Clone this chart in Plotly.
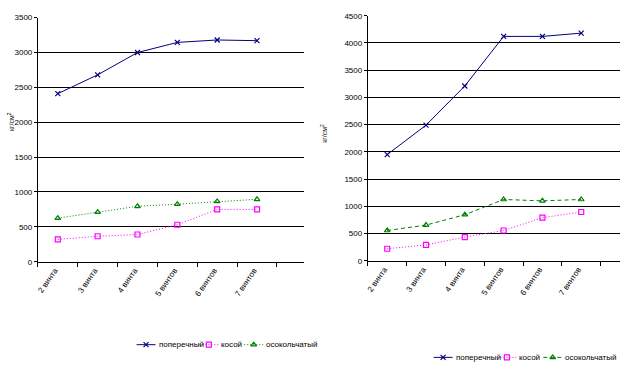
import plotly.graph_objects as go

categories = ["2 винта", "3 винта", "4 винта", "5 винтов", "6 винтов", "7 винтов"]
series_names = ["поперечный", "косой", "осокольчатый"]

left_poperechny = [2410, 2680, 3000, 3145, 3180, 3170]
left_kosoy = [320, 365, 390, 530, 750, 750]
left_oskol = [625, 710, 795, 825, 865, 895]

right_poperechny = [1950, 2490, 3210, 4120, 4120, 4180]
right_kosoy = [220, 290, 435, 555, 790, 895]
right_oskol = [555, 655, 845, 1125, 1100, 1125]

colors = ["#000080", "#FF00FF", "#008000"]
symbols = ["x-thin-open", "square-open", "triangle-up-open"]
left_dash = ["solid", "1px,2px", "1px,2px"]
right_dash = ["solid", "1px,2px", "4px,3px"]

xpos = list(range(len(categories)))
FONT = "Liberation Sans Narrow, Arial Narrow, Liberation Sans, Arial"
W, H = 624, 378

fig = go.Figure()

def add_series(vals_list, dashes, xa, ya):
    for i, (name, vals) in enumerate(zip(series_names, vals_list)):
        fig.add_trace(go.Scatter(
            x=xpos, y=vals, name=name, mode="lines+markers", showlegend=False,
            line=dict(color=colors[i], width=1, dash=dashes[i]),
            marker=dict(symbol=symbols[i], size=5, color=colors[i],
                        line=dict(color=colors[i], width=1.2)),
            xaxis=xa, yaxis=ya))

add_series([left_poperechny, left_kosoy, left_oskol], left_dash, "x", "y")
add_series([right_poperechny, right_kosoy, right_oskol], right_dash, "x2", "y2")

# Legend (drawn on an overlay pixel axis): sample line start, end, text start, row y
legend_layouts = [
    dict(y=349, items=[(135, 154, 156), (198, 217, 219), (243, 262, 264)], dashes=left_dash),
    dict(y=362, items=[(433, 452, 454), (497, 516, 518), (543, 562, 564)], dashes=right_dash),
]
annotations = []
for lg in legend_layouts:
    for i, (x0, x1, xt) in enumerate(lg["items"]):
        fig.add_trace(go.Scatter(
            x=[x0, x1], y=[lg["y"], lg["y"]], mode="lines", showlegend=False, hoverinfo="skip",
            line=dict(color=colors[i], width=1, dash=lg["dashes"][i]), xaxis="x3", yaxis="y3"))
        fig.add_trace(go.Scatter(
            x=[(x0 + x1) / 2], y=[lg["y"]], mode="markers", showlegend=False, hoverinfo="skip",
            marker=dict(symbol=symbols[i], size=5, color=colors[i],
                        line=dict(color=colors[i], width=1.2)), xaxis="x3", yaxis="y3"))
        annotations.append(dict(text=series_names[i], x=xt / W, y=(H - lg["y"]) / H,
                                xref="paper", yref="paper", xanchor="left", yanchor="middle",
                                borderpad=0, showarrow=False,
                                font=dict(family=FONT, size=8, color="black")))

annotations += [
    dict(text="кг/см<sup>2</sup>", x=9 / W, y=(H - 120) / H, xref="paper", yref="paper",
         xanchor="center", yanchor="middle",
         textangle=-90, showarrow=False, font=dict(family=FONT, size=7, color="black")),
    dict(text="кг/см<sup>2</sup>", x=323 / W, y=(H - 132) / H, xref="paper", yref="paper",
         xanchor="center", yanchor="middle",
         textangle=-90, showarrow=False, font=dict(family=FONT, size=7, color="black")),
]

xcommon = dict(
    tickmode="array", tickvals=xpos, ticktext=categories, tickangle=-55,
    ticks="", showgrid=False, zeroline=False, ticklabelshift=-3,
    showline=True, linecolor="black", linewidth=1,
    tickfont=dict(family=FONT, size=8, color="black"),
    minor=dict(tick0=-0.5, dtick=1, ticks="outside", ticklen=4, tickcolor="black", showgrid=False),
)
ycommon = dict(
    showgrid=True, gridcolor="black", gridwidth=1,
    zeroline=False, showline=True, linecolor="black", linewidth=1,
    ticks="outside", ticklen=3, tickcolor="black",
    tickfont=dict(family=FONT, size=8, color="black"),
)

fig.update_layout(
    width=W, height=H,
    margin=dict(l=0, r=0, t=0, b=0),
    paper_bgcolor="white", plot_bgcolor="rgba(0,0,0,0)",
    showlegend=False,
    xaxis=dict(domain=[36 / W, 303 / W], range=[-0.5, 6.18], anchor="y", **xcommon),
    yaxis=dict(domain=[(H - 264) / H, (H - 14) / H], range=[0, 3500], dtick=500, anchor="x", **ycommon),
    xaxis2=dict(domain=[367 / W, 620 / W], range=[-0.5, 6.0], anchor="y2", **xcommon),
    yaxis2=dict(domain=[(H - 263) / H, (H - 12) / H], range=[0, 4500], dtick=500, anchor="x2", **ycommon),
    xaxis3=dict(domain=[0, 1], range=[0, W], visible=False, fixedrange=True, anchor="y3"),
    yaxis3=dict(domain=[0, 1], range=[H, 0], visible=False, fixedrange=True, anchor="x3"),
    annotations=annotations,
)

fig.write_html("out.html", config={"displayModeBar": False},
               post_script="document.body.style.margin='0';")
